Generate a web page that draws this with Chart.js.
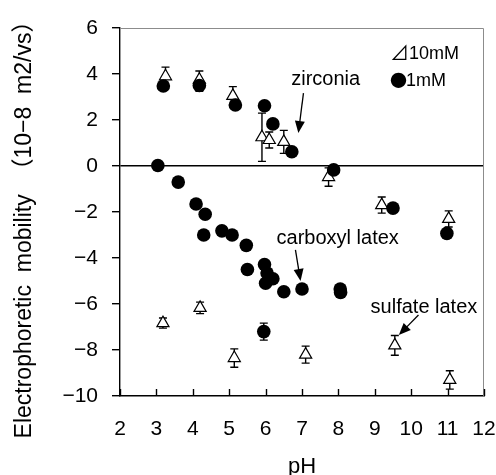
<!DOCTYPE html>
<html>
<head>
<meta charset="utf-8">
<script src="https://cdn.jsdelivr.net/npm/chart.js@4"></script>
<style>
  html, body { margin: 0; padding: 0; background: #fff; }
  #wrap { width: 496px; height: 475px; }
</style>
</head>
<body>
<div id="wrap"><canvas id="mobilityChart" width="496" height="475"></canvas></div>
<script>
// 1mM (filled circles)
const phCircle = [3.04, 3.19, 3.6, 4.09, 4.18, 4.3, 4.34, 4.8, 5.08, 5.17, 5.47, 5.5, 5.95, 5.97, 5.97, 6.04, 6.0, 6.2, 6.2, 6.5, 6.72, 7.0, 7.87, 8.05, 8.06, 9.5, 10.98];
const mobCircle = [0.02, 3.48, -0.7, -1.65, 3.5, -3.0, -2.1, -2.82, -3.0, 2.65, -3.45, -4.5, -7.2, 2.62, -4.28, -4.65, -5.1, 1.83, -4.9, -5.47, 0.62, -5.35, -0.17, -5.35, -5.5, -1.83, -2.93];
const errCircle = [0, 0, 0, 0, 0.25, 0, 0, 0, 0, 0, 0, 0, 0.37, 0, 0, 0, 0, 0, 0, 0, 0, 0, 0, 0, 0, 0, 0];

// 10mM (open triangles)
const phTri = [3.25, 4.18, 5.1, 5.9, 6.1, 6.5, 7.73, 9.19, 11.03, 3.18, 4.2, 5.14, 7.1, 9.55, 11.06];
const mobTri = [3.9, 3.75, 3.05, 1.25, 1.13, 1.05, -0.48, -1.7, -2.3, -6.83, -6.17, -8.35, -8.2, -7.8, -9.3];
const errTri = [0.4, 0.38, 0.4, 1.05, 0.35, 0.5, 0.4, 0.35, 0.35, 0.22, 0.25, 0.4, 0.37, 0.43, 0.4];

const xTicks = [2, 3, 4, 5, 6, 7, 8, 9, 10, 11, 12];
const yTicks = [6, 4, 2, 0, -2, -4, -6, -8, -10];

// annotations: [text, textX, textY, arrowFromX, arrowFromY, arrowToX, arrowToY]
const labels = [
  ['zirconia', 7.65, 3.74, 7.04, 3.17, 6.9, 1.43],
  ['carboxyl latex', 7.98, -3.13, 6.82, -3.65, 6.96, -5.0],
  ['sulfate latex', 10.35, -6.13, 10.2, -6.48, 9.66, -7.35]
];

const yTitle = 'Electrophoretic  mobility  （10−8  m2/vs）';

const FONT = '"Liberation Sans", Arial, "Noto Sans CJK JP", sans-serif';
const CJK = '"Noto Sans CJK JP", sans-serif';

const toPoints = (xs, ys) => xs.map((x, i) => ({ x: x, y: ys[i] }));

const extras = {
  id: 'extras',
  beforeDatasetsDraw(chart) {
    const { ctx, scales: { x, y } } = chart;
    ctx.save();
    ctx.strokeStyle = '#000';
    ctx.lineWidth = 1.4;
    const bars = (xs, ys, es) => {
      xs.forEach((v, i) => {
        if (!es[i]) return;
        const px = x.getPixelForValue(v);
        const top = y.getPixelForValue(ys[i] + es[i]);
        const bot = y.getPixelForValue(ys[i] - es[i]);
        ctx.beginPath();
        ctx.moveTo(px, top); ctx.lineTo(px, bot);
        ctx.moveTo(px - 4, top); ctx.lineTo(px + 4, top);
        ctx.moveTo(px - 4, bot); ctx.lineTo(px + 4, bot);
        ctx.stroke();
      });
    };
    bars(phTri, mobTri, errTri);
    bars(phCircle, mobCircle, errCircle);
    ctx.restore();
  },
  afterDraw(chart) {
    const { ctx, chartArea: a, scales: { x, y } } = chart;
    ctx.save();
    // gray top/right frame
    ctx.strokeStyle = '#8c8c8c';
    ctx.lineWidth = 1;
    ctx.beginPath();
    ctx.moveTo(a.left, a.top + 0.5); ctx.lineTo(a.right - 0.5, a.top + 0.5); ctx.lineTo(a.right - 0.5, a.bottom);
    ctx.stroke();
    // inner x ticks
    ctx.strokeStyle = '#000';
    ctx.lineWidth = 1.4;
    xTicks.forEach(t => {
      const px = Math.round(x.getPixelForValue(t)) + 0.5;
      ctx.beginPath();
      ctx.moveTo(px, a.bottom); ctx.lineTo(px, a.bottom - 7);
      ctx.stroke();
    });
    // annotations
    ctx.fillStyle = '#000';
    ctx.font = '20px ' + FONT;
    ctx.textAlign = 'center';
    ctx.textBaseline = 'middle';
    labels.forEach(l => {
      ctx.fillText(l[0], x.getPixelForValue(l[1]), y.getPixelForValue(l[2]));
      const x1 = x.getPixelForValue(l[3]), y1 = y.getPixelForValue(l[4]);
      const x2 = x.getPixelForValue(l[5]), y2 = y.getPixelForValue(l[6]);
      const ang = Math.atan2(y2 - y1, x2 - x1);
      ctx.lineWidth = 1.3;
      ctx.beginPath();
      ctx.moveTo(x1, y1);
      ctx.lineTo(x2 - 9 * Math.cos(ang), y2 - 9 * Math.sin(ang));
      ctx.stroke();
      ctx.beginPath();
      ctx.moveTo(x2, y2);
      ctx.lineTo(x2 - 12 * Math.cos(ang) + 5 * Math.sin(ang), y2 - 12 * Math.sin(ang) - 5 * Math.cos(ang));
      ctx.lineTo(x2 - 12 * Math.cos(ang) - 5 * Math.sin(ang), y2 - 12 * Math.sin(ang) + 5 * Math.cos(ang));
      ctx.closePath();
      ctx.fill();
    });
    // legend
    ctx.textAlign = 'left';
    ctx.font = '19px ' + CJK;
    ctx.fillText('⊿', a.left + 270, a.top + 25);
    ctx.font = '17px ' + CJK;
    ctx.fillText('●', a.left + 270, a.top + 53);
    ctx.font = '18px ' + FONT;
    ctx.fillText('10mM', a.left + 289, a.top + 26);
    ctx.fillText('1mM', a.left + 286, a.top + 53);
    // y title
    ctx.font = '23px ' + FONT;
    ctx.textAlign = 'center';
    ctx.translate(25, 224);
    ctx.rotate(-Math.PI / 2);
    ctx.fillText(yTitle, 0, 0);
    ctx.restore();
  }
};

new Chart(document.getElementById('mobilityChart'), {
  type: 'scatter',
  data: {
    datasets: [
      {
        label: '1mM',
        data: toPoints(phCircle, mobCircle),
        pointStyle: 'circle',
        pointRadius: 6.8,
        pointHoverRadius: 6.8,
        backgroundColor: '#000',
        borderColor: '#000',
        borderWidth: 0
      },
      {
        label: '10mM',
        data: toPoints(phTri, mobTri),
        pointStyle: 'triangle',
        pointRadius: 7,
        pointHoverRadius: 7,
        backgroundColor: '#fff',
        borderColor: '#000',
        borderWidth: 1.2
      }
    ]
  },
  options: {
    responsive: false,
    animation: false,
    events: [],
    layout: { padding: { top: 28, right: 12, left: 0, bottom: 0 } },
    plugins: { legend: { display: false }, tooltip: { enabled: false } },
    scales: {
      x: {
        type: 'linear',
        min: 2,
        max: 12,
        afterBuildTicks: s => { s.ticks = xTicks.map(v => ({ value: v })); },
        afterFit: s => { s.height = 79; s.paddingLeft = 0; s.paddingRight = 0; },
        grid: { display: true, drawOnChartArea: false, drawTicks: false },
        border: { color: '#000', width: 1.4 },
        ticks: { color: '#000', padding: 21, maxRotation: 0, autoSkip: false, font: { family: FONT, size: 21 } },
        title: { display: true, text: 'pH', color: '#000', padding: { top: 0, bottom: 0 }, font: { family: FONT, size: 22, lineHeight: 0.7 } }
      },
      y: {
        type: 'linear',
        min: -10,
        max: 6,
        afterBuildTicks: s => { s.ticks = yTicks.map(v => ({ value: v })); },
        afterFit: s => { s.width = 120; s.paddingTop = 0; s.paddingBottom = 0; },
        grid: {
          drawOnChartArea: true,
          color: c => (c.tick && c.tick.value === 0 ? '#000' : 'rgba(0,0,0,0)'),
          lineWidth: 1.4,
          tickColor: '#000',
          tickLength: 8
        },
        border: { color: '#000', width: 1.4 },
        ticks: {
          color: '#000',
          padding: 14,
          autoSkip: false,
          font: { family: FONT, size: 21 },
          callback: v => String(v).replace('-', '−')
        },
        title: { display: false }
      }
    }
  },
  plugins: [extras]
});
</script>
</body>
</html>
